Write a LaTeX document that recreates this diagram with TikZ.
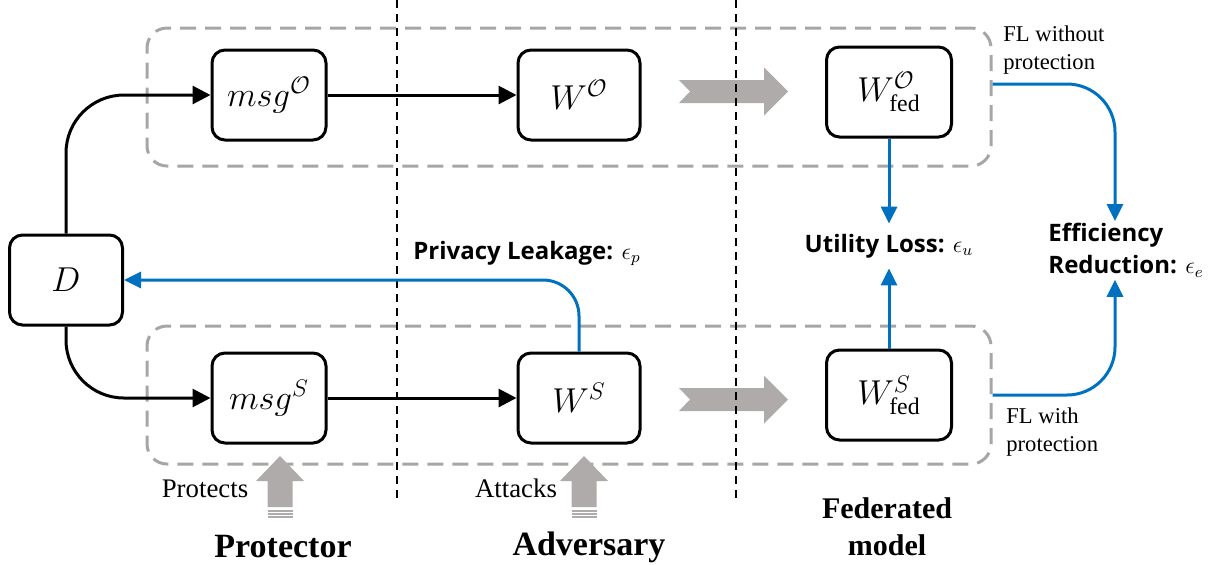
\documentclass[tikz,border=0pt]{standalone}
\usepackage{amsmath}
\usepackage{amssymb}
\usepackage{fontspec}
\setmainfont{Liberation Serif}
\setsansfont{Open Sans}
\usepackage{tikz}
\usetikzlibrary{positioning, arrows.meta}
\tikzstyle{diagram} = [x = 0.5pt, y = -0.5pt]
\definecolor{groupColor}{RGB}{166,166,166}
\definecolor{lossColor}{RGB}{0,112,192}
\definecolor{blockArrowColor}{RGB}{175,171,171}
\tikzstyle{modelBox} = [draw=black, fill=white, line width=1.5pt, rounded corners=6.5pt, minimum height=45pt, font=\fontsize{17}{20}\selectfont]
\tikzstyle{groupBox} = [draw=groupColor, line width=1.5pt, dash pattern=on 8pt off 4.5pt, rounded corners=10pt, minimum width=422pt, minimum height=69pt]
\tikzstyle{roleLine} = [black, line width=1.2pt, dash pattern=on 4pt off 3pt]
\tikzstyle{flowArrow} = [-{Triangle[length=9pt, width=9pt]}, line width=1.5pt, rounded corners=29pt]
\tikzstyle{lossArrow} = [-{Triangle[length=8.5pt, width=8pt]}, draw=lossColor, line width=1.5pt]
\tikzstyle{lossText} = [font=\sffamily\bfseries\fontsize{12}{16}\selectfont, inner sep=1pt]
\tikzstyle{noteText} = [font=\fontsize{11.3}{14}\selectfont, align=left, inner sep=0pt]
\tikzstyle{actionText} = [font=\fontsize{13.4}{16}\selectfont, inner sep=0pt]
\tikzstyle{roleText} = [font=\bfseries\fontsize{17}{20}\selectfont, inner sep=0pt]
\newcommand{\blockArrowRight}[2]{\fill [blockArrowColor] (#1, #2) ++(0,-11.5) -- ++(85,0) -- ++(0,-12.5) -- ++(24,24) -- ++(-24,24) -- ++(0,-12.5) -- ++(-85,0) -- ++(11,-11.5) -- cycle;}
\newcommand{\blockArrowUp}[3]{
  \fill [blockArrowColor] (#1, #2) -- (#1 + 24, #2 + 25) -- (#1 + 12.5, #2 + 25) -- (#1 + 12.5, #3) -- (#1 - 12.5, #3) -- (#1 - 12.5, #2 + 25) -- (#1 - 24, #2 + 25) -- cycle;
  \foreach \stripe in {4,7,10} {
    \draw [blockArrowColor, line width=0.75pt] (#1 - 12.5, #3 + \stripe) -- +(25,0);
  }
}

\begin{document}
\begin{tikzpicture}[diagram]
  \useasboundingbox (0,0) rectangle (1213,564);
  % groups
  \node [groupBox] (topGroup) at (569,97) {};
  \node [groupBox] (bottomGroup) at (569,395) {};

  % transfer to the federated model
  \blockArrowRight{679}{91.5}
  \blockArrowRight{679}{399.5}
  \blockArrowUp{280}{456}{507}
  \blockArrowUp{584}{456}{507}

  \foreach \separator in {397,736} {
    \draw [roleLine] (\separator,0) -- (\separator,498);
  }

  % models
  \node [modelBox, minimum width=56.5pt] (data) at (66,280) {$D$};
  \node [modelBox, minimum width=57pt] (msgO) at (269,95) {$msg^{\mathcal{O}}$};
  \node [modelBox, minimum width=61pt] (weightO) at (579,95) {$W^{\mathcal{O}}$};
  \node [modelBox, minimum width=62.5pt] (fedO) at (889,92) {$W^{\mathcal{O}}_{\mathrm{fed}}$};
  \node [modelBox, minimum width=57pt] (msgS) at (269,398) {$msg^{S}$};
  \node [modelBox, minimum width=61pt] (weightS) at (579,398) {$W^{S}$};
  \node [modelBox, minimum width=62.5pt] (fedS) at (889,395) {$W^{S}_{\mathrm{fed}}$};

  % losses
  \node [lossText, anchor=base west] (privacy) at (411,259) {Privacy Leakage: $\epsilon_p$};
  \node [lossText, inner ysep=5pt] (utility) at (889,246) {Utility Loss: $\epsilon_u$};
  \node [lossText, anchor=north west, align=left] (efficiency) at (1046,221) {Efficiency\\Reduction: $\epsilon_e$};

  \draw [flowArrow] (data.north) |- (msgO.west);
  \draw [flowArrow] (data.south) |- (msgS.west);
  \draw [flowArrow] (msgO) -- (weightO);
  \draw [flowArrow] (msgS) -- (weightS);

  \draw [lossArrow, rounded corners=18pt] (weightS.north) |- (data.east);
  \draw [lossArrow] (fedO) -- (utility);
  \draw [lossArrow] (fedS) -- (utility);
  \draw [lossArrow, rounded corners=24pt] ([yshift=6.5pt]topGroup.east) -| ([xshift=34.5pt]efficiency.north west);
  \draw [lossArrow, rounded corners=24pt] (bottomGroup.east) -| ([xshift=34.5pt]efficiency.south west);

  % labels
  \node [noteText, anchor=north west] (noteWithout) at (1003,25) {FL without\\protection};
  \node [noteText, anchor=north west] (noteWith) at (1006,407) {FL with\\protection};
  \node [actionText] (protects) at (205,489) {Protects};
  \node [actionText] (attacks) at (516,488) {Attacks};
  \node [roleText] (protector) at (283,547) {Protector};
  \node [roleText] (adversary) at (589,547) {Adversary};
  \node [roleText, align=center, font=\bfseries\fontsize{15}{18.5}\selectfont] (federated) at (887,527) {Federated\\model};
\end{tikzpicture}
\end{document}
